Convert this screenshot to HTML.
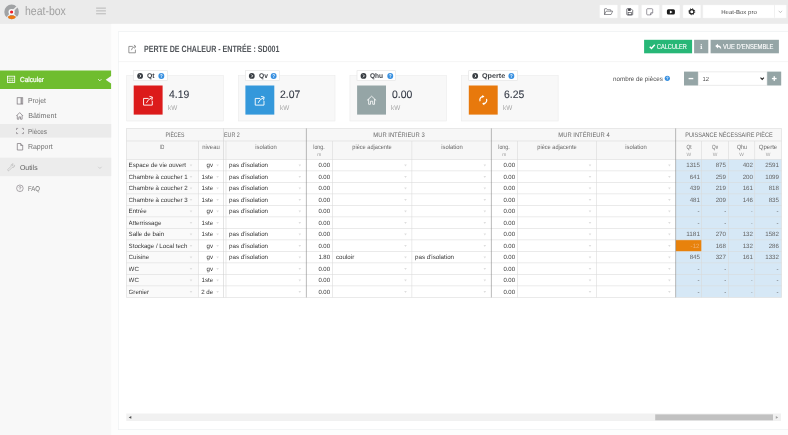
<!DOCTYPE html>
<html><head><meta charset="utf-8">
<style>
html,body{margin:0;padding:0;}
body{width:788px;height:435px;overflow:hidden;background:#fbfbfb;font-family:"Liberation Sans",sans-serif;position:relative;}
#root{position:absolute;left:0;top:0;width:788px;height:435px;overflow:hidden;will-change:transform;text-rendering:geometricPrecision;}
#root div{position:absolute;box-sizing:border-box;}
#root svg{position:absolute;left:0;top:0;}
.t{white-space:nowrap;line-height:1;}
</style></head><body><div id="root">
<svg width="788" height="435" viewBox="0 0 788 435">
<rect x="0.00" y="0.00" width="788.00" height="435.00" fill="#fdfdfd" />
<rect x="0.00" y="23.00" width="111.20" height="412.00" fill="#f8f8f8" />
<rect x="0.00" y="23.30" width="788.00" height="0.60" fill="#000" fill-opacity="0.035"/>
<rect x="0.00" y="0.00" width="788.00" height="23.40" fill="#ebebeb" />
<rect x="0.00" y="22.90" width="788.00" height="0.50" fill="#e5e5e5" />
<g transform="translate(4.20 4.60) scale(1.0)"><circle cx="7.4" cy="7.3" r="7.3" fill="#a0a2a4"/>
<path d="M7.4 7.6 L13.6 1.4" stroke="#ebebeb" stroke-width="1.7" fill="none"/>
<path d="M7.4 7.6 L2.2 13.6 M7.4 7.6 L12.9 13.4" stroke="#ebebeb" stroke-width="1.3" fill="none"/>
<circle cx="7.4" cy="7.4" r="3.1" fill="#f8f8f8"/>
<circle cx="7.4" cy="7.4" r="1.6" fill="#ee1c25"/>
<path d="M3.4 12.2 Q7.5 9.4 11.8 12.2 Q10.8 14.6 7.6 14.6 Q4.4 14.6 3.4 12.2 Z" fill="#ee7712"/></g>
<rect x="96.10" y="7.65" width="9.80" height="0.90" fill="#b2b2b2" />
<rect x="96.10" y="10.45" width="9.80" height="0.90" fill="#b2b2b2" />
<rect x="96.10" y="13.35" width="9.80" height="0.90" fill="#b2b2b2" />
<rect x="599.70" y="4.90" width="17.80" height="13.10" fill="#fff" stroke="#f3f3f3" stroke-width="0.4" rx="0.6"/>
<rect x="620.60" y="4.90" width="17.80" height="13.10" fill="#fff" stroke="#f3f3f3" stroke-width="0.4" rx="0.6"/>
<rect x="641.60" y="4.90" width="17.80" height="13.10" fill="#fff" stroke="#f3f3f3" stroke-width="0.4" rx="0.6"/>
<rect x="662.10" y="4.90" width="17.80" height="13.10" fill="#fff" stroke="#f3f3f3" stroke-width="0.4" rx="0.6"/>
<rect x="683.00" y="4.90" width="17.80" height="13.10" fill="#fff" stroke="#f3f3f3" stroke-width="0.4" rx="0.6"/>
<rect x="702.80" y="4.90" width="83.60" height="13.10" fill="#fff" stroke="#f3f3f3" stroke-width="0.4" rx="0.6"/>
<rect x="774.30" y="5.20" width="0.50" height="12.50" fill="#e2e2e2" />
<g transform="translate(778.40 10.40) scale(1.0)"><path d="M0.3 0.4 L2 2.3 L3.7 0.4" stroke="#a0a0a0" stroke-width="0.6" fill="none"/></g>
<g transform="translate(604.10 8.30) scale(1.0)"><path d="M0.4 6.2 L0.4 0.9 Q0.4 0.4 0.9 0.4 L2.6 0.4 L3.4 1.4 L6.2 1.4 Q6.7 1.4 6.7 1.9 L6.7 2.9 M0.4 6.2 L2 2.9 L8.6 2.9 L7 6.2 Z" stroke="#3c3c44" stroke-width="0.55" fill="none" stroke-linejoin="round"/></g>
<g transform="translate(626.40 8.30) scale(1.0)"><path d="M0.9 0.4 L4.6 0.4 L6.3 2.1 L6.3 6.1 Q6.3 6.6 5.8 6.6 L0.9 6.6 Q0.4 6.6 0.4 6.1 L0.4 0.9 Q0.4 0.4 0.9 0.4 Z" stroke="#3c3c44" stroke-width="0.7" fill="none"/><rect x="1.7" y="0.4" width="2.6" height="2.2" fill="#3c3c44"/><rect x="1.7" y="4" width="3.4" height="2.6" fill="none" stroke="#3c3c44" stroke-width="0.6"/></g>
<g transform="translate(646.30 8.30) scale(1.0)"><path d="M1.3 0.4 L5.5 0.4 Q6.4 0.4 6.4 1.3 L6.4 4.4 L4.3 6.6 L1.3 6.6 Q0.4 6.6 0.4 5.7 L0.4 1.3 Q0.4 0.4 1.3 0.4 Z M6.4 4.4 L4.8 4.4 Q4.3 4.4 4.3 4.9 L4.3 6.6" stroke="#4a4652" stroke-width="0.55" fill="none"/></g>
<g transform="translate(666.90 9.30) scale(1.0)"><rect x="0" y="0" width="8" height="5.2" rx="1.5" fill="#1b1b1b"/><path d="M3.0 1.1 L5.7 2.6 L3.0 4.1 Z" fill="#fff"/></g>
<g transform="translate(688.50 8.40) scale(1.0)"><circle cx="3.3" cy="3.3" r="2.7" fill="#1b1b1b"/><circle cx="3.3" cy="3.3" r="3.0" fill="none" stroke="#1b1b1b" stroke-width="0.9" stroke-dasharray="1.15 1.2"/><circle cx="3.3" cy="3.3" r="1.5" fill="#fff"/></g>
<path d="M0 70.5 L111.1 70.5 L111.1 76.1 L105.7 79.8 L111.1 83.5 L111.1 89 L0 89 Z" fill="#6fbd2f"/>
<g transform="translate(7.00 75.80) scale(1.0)"><rect x="0.4" y="0.4" width="7.3" height="6.3" fill="none" stroke="#fff" stroke-width="0.8"/><path d="M0.4 2.4 L7.7 2.4 M2.9 2.4 L2.9 6.7 M5.3 2.4 L5.3 6.7 M0.4 4.6 L7.7 4.6" stroke="#fff" stroke-opacity="0.75" stroke-width="0.6" fill="none"/></g>
<g transform="translate(97.90 78.90) scale(1.0)"><path d="M0.3 0.3 L1.9 1.9 L3.5 0.3" stroke="#fff" stroke-width="0.8" fill="none"/></g>
<g transform="translate(16.80 97.40) scale(1.0)"><rect x="0.35" y="0.35" width="5.6" height="6.3" fill="none" stroke="#787278" stroke-width="0.7"/><path d="M4.4 0.4 L4.4 6.6" stroke="#787278" stroke-width="1.0"/></g>
<g transform="translate(15.90 112.00) scale(1.0)"><path d="M0.4 4 L3.8 0.6 L7.2 4 M1.4 3.4 L1.4 7.2 L3 7.2 L3 4.9 L4.6 4.9 L4.6 7.2 L6.2 7.2 L6.2 3.4" fill="none" stroke="#787278" stroke-width="0.7" stroke-linejoin="round"/></g>
<rect x="0.00" y="124.00" width="111.20" height="13.60" fill="#ebebeb" />
<g transform="translate(16.10 128.00) scale(1.0)"><path d="M2 0.4 L0.4 0.4 L0.4 2 M5.8 0.4 L7.4 0.4 L7.4 2 M0.4 4 L0.4 5.6 L2 5.6 M7.4 4 L7.4 5.6 L5.8 5.6" fill="none" stroke="#787278" stroke-width="0.6"/></g>
<g transform="translate(16.90 143.10) scale(1.0)"><path d="M0.4 0.4 L3.8 0.4 L5.8 2.4 L5.8 6.9 L0.4 6.9 Z M3.8 0.4 L3.8 2.4 L5.8 2.4" fill="none" stroke="#787278" stroke-width="0.7" stroke-linejoin="round"/></g>
<rect x="0.00" y="157.70" width="111.20" height="18.40" fill="#ececec" />
<g transform="translate(7.00 163.40) scale(1.0)"><path d="M0.9 6.0 L4.1 2.8 Q3.8 1.2 5.2 0.5 L6.3 0.5 L5.3 1.6 L5.6 2.5 L6.5 2.8 L7.6 1.8 Q7.9 3.4 6.6 4.0 Q5.8 4.3 5.2 4.0 L2.0 7.2 Q1.4 7.6 0.9 7.1 Q0.5 6.6 0.9 6.0 Z" fill="none" stroke="#b4b4b4" stroke-width="0.6" stroke-linejoin="round"/></g>
<g transform="translate(97.90 166.50) scale(1.0)"><path d="M0.3 0.3 L2 2 L3.7 0.3" stroke="#c2c2c2" stroke-width="0.7" fill="none"/></g>
<g transform="translate(16.20 184.60) scale(1.0)"><circle cx="3.7" cy="3.7" r="3.3" fill="none" stroke="#787278" stroke-width="0.6"/><path d="M2.7 2.9 Q2.8 2 3.7 2 Q4.7 2 4.7 2.9 Q4.7 3.5 3.7 3.9 L3.7 4.4 M3.7 5 L3.7 5.6" fill="none" stroke="#787278" stroke-width="0.6"/></g>
<rect x="118.60" y="31.70" width="670.40" height="398.00" fill="#fff" stroke="#eceef1" stroke-width="0.6" />
<rect x="118.30" y="61.50" width="670.00" height="0.60" fill="#eeeeee" />
<g transform="translate(128.40 44.40) scale(1.0)"><path d="M4.4 2 L0.45 2 L0.45 8.4 L7 8.4 L7 5.2 M3 5.8 Q3.4 2.6 6.9 2.2 M5.5 0.6 L7.6 2.2 L5.8 3.9" fill="none" stroke="#6a6a6a" stroke-width="0.7" stroke-linejoin="round"/></g>
<rect x="644.10" y="39.80" width="48.00" height="13.50" fill="#27b777" />
<g transform="translate(649.00 43.70) scale(1.25)"><path d="M0.6 2.4 L2 3.8 L4.6 0.8" stroke="#fff" stroke-width="1.15" fill="none"/></g>
<rect x="694.10" y="39.80" width="14.20" height="13.50" fill="#95a5a6" />
<g transform="translate(700.30 44.10) scale(0.8)"><circle cx="1.2" cy="0.8" r="0.8" fill="#fff"/><path d="M0.2 2.5 L1.9 2.5 L1.9 5.4 L2.5 5.4 L2.5 6.2 L0 6.2 L0 5.4 L0.6 5.4 L0.6 3.3 L0.2 3.3 Z" fill="#fff"/></g>
<rect x="710.60" y="39.80" width="68.30" height="13.50" fill="#95a5a6" />
<g transform="translate(715.00 43.60) scale(1.2)"><path d="M2.5 0.2 L0.2 2.1 L2.5 4 L2.5 2.9 Q4.5 2.8 5.1 5 Q5.6 1.7 2.5 1.4 Z" fill="#fff"/></g>
<rect x="126.70" y="75.40" width="96.70" height="45.60" fill="#f8f8f8" stroke="#ebebeb" stroke-width="0.6" />
<rect x="133.60" y="70.70" width="33.70" height="9.90" fill="#fff" stroke="#e2e2e2" stroke-width="0.6" />
<rect x="133.70" y="85.50" width="28.90" height="29.10" fill="#dc1b1b" />
<g transform="translate(142.90 95.40) scale(1.08)"><path d="M4.9 2.8 L0.6 2.8 L0.6 9 L8.7 9 L8.7 5.4 M3.4 6.6 Q4.4 3.6 8.2 2.2 M6.4 1.0 L8.9 1.6 L8.3 4.2" fill="none" stroke="#fff" stroke-width="0.85" stroke-linejoin="round" stroke-linecap="round"/></g>
<g transform="translate(137.20 73.00) scale(1.0)"><circle cx="2.9" cy="2.9" r="2.9" fill="#373c42"/><path d="M2.4 1.5 L3.8 2.9 L2.4 4.3" fill="none" stroke="#fff" stroke-width="0.9"/></g>
<g transform="translate(158.40 73.00) scale(1.0)"><circle cx="2.95" cy="2.95" r="2.95" fill="#368fe0"/><path d="M2.0 2.3 Q2.1 1.4 2.95 1.4 Q3.9 1.4 3.9 2.2 Q3.9 2.8 2.95 3.2 L2.95 3.7 M2.95 4.3 L2.95 4.9" fill="none" stroke="#fff" stroke-width="0.8"/></g>
<rect x="238.30" y="75.40" width="96.70" height="45.60" fill="#f8f8f8" stroke="#ebebeb" stroke-width="0.6" />
<rect x="245.30" y="70.70" width="34.30" height="9.90" fill="#fff" stroke="#e2e2e2" stroke-width="0.6" />
<rect x="245.40" y="85.50" width="28.90" height="29.10" fill="#3498db" />
<g transform="translate(254.60 95.40) scale(1.08)"><path d="M4.9 2.8 L0.6 2.8 L0.6 9 L8.7 9 L8.7 5.4 M3.4 6.6 Q4.4 3.6 8.2 2.2 M6.4 1.0 L8.9 1.6 L8.3 4.2" fill="none" stroke="#fff" stroke-width="0.85" stroke-linejoin="round" stroke-linecap="round"/></g>
<g transform="translate(248.90 73.00) scale(1.0)"><circle cx="2.9" cy="2.9" r="2.9" fill="#373c42"/><path d="M2.4 1.5 L3.8 2.9 L2.4 4.3" fill="none" stroke="#fff" stroke-width="0.9"/></g>
<g transform="translate(270.70 73.00) scale(1.0)"><circle cx="2.95" cy="2.95" r="2.95" fill="#368fe0"/><path d="M2.0 2.3 Q2.1 1.4 2.95 1.4 Q3.9 1.4 3.9 2.2 Q3.9 2.8 2.95 3.2 L2.95 3.7 M2.95 4.3 L2.95 4.9" fill="none" stroke="#fff" stroke-width="0.8"/></g>
<rect x="349.90" y="75.40" width="96.70" height="45.60" fill="#f8f8f8" stroke="#ebebeb" stroke-width="0.6" />
<rect x="357.00" y="70.70" width="38.60" height="9.90" fill="#fff" stroke="#e2e2e2" stroke-width="0.6" />
<rect x="357.10" y="85.50" width="28.90" height="29.10" fill="#95a5a6" />
<g transform="translate(366.80 95.50) scale(1.02)"><path d="M0.5 4.6 L4.7 0.7 L8.9 4.6 M1.8 3.9 L1.8 8.6 L3.6 8.6 L3.6 5.6 L5.8 5.6 L5.8 8.6 L7.6 8.6 L7.6 3.9" fill="none" stroke="#fff" stroke-width="0.8" stroke-linejoin="round" stroke-linecap="round"/></g>
<g transform="translate(360.60 73.00) scale(1.0)"><circle cx="2.9" cy="2.9" r="2.9" fill="#373c42"/><path d="M2.4 1.5 L3.8 2.9 L2.4 4.3" fill="none" stroke="#fff" stroke-width="0.9"/></g>
<g transform="translate(387.30 73.00) scale(1.0)"><circle cx="2.95" cy="2.95" r="2.95" fill="#368fe0"/><path d="M2.0 2.3 Q2.1 1.4 2.95 1.4 Q3.9 1.4 3.9 2.2 Q3.9 2.8 2.95 3.2 L2.95 3.7 M2.95 4.3 L2.95 4.9" fill="none" stroke="#fff" stroke-width="0.8"/></g>
<rect x="461.50" y="75.40" width="96.70" height="45.60" fill="#f8f8f8" stroke="#ebebeb" stroke-width="0.6" />
<rect x="468.70" y="70.70" width="48.70" height="9.90" fill="#fff" stroke="#e2e2e2" stroke-width="0.6" />
<rect x="468.80" y="85.50" width="28.90" height="29.10" fill="#e8790c" />
<g transform="translate(478.80 95.10) scale(1.0)"><path d="M1.3 6.2 A3.6 3.6 0 0 1 4.2 1.3 M7.7 3.8 A3.6 3.6 0 0 1 4.8 8.7" fill="none" stroke="#fff" stroke-width="1.2"/><path d="M3.5 -0.2 L5.7 1.3 L3.5 2.8 Z M5.5 7.2 L3.3 8.7 L5.5 10.2 Z" fill="#fff"/></g>
<g transform="translate(472.30 73.00) scale(1.0)"><circle cx="2.9" cy="2.9" r="2.9" fill="#373c42"/><path d="M2.4 1.5 L3.8 2.9 L2.4 4.3" fill="none" stroke="#fff" stroke-width="0.9"/></g>
<g transform="translate(508.40 73.00) scale(1.0)"><circle cx="2.95" cy="2.95" r="2.95" fill="#368fe0"/><path d="M2.0 2.3 Q2.1 1.4 2.95 1.4 Q3.9 1.4 3.9 2.2 Q3.9 2.8 2.95 3.2 L2.95 3.7 M2.95 4.3 L2.95 4.9" fill="none" stroke="#fff" stroke-width="0.8"/></g>
<g transform="translate(664.90 75.90) scale(1.0)"><circle cx="2.4" cy="2.4" r="2.6" fill="#368fe0"/><path d="M1.6 1.9 Q1.7 1.1 2.4 1.1 Q3.2 1.1 3.2 1.8 Q3.2 2.3 2.4 2.6 L2.4 3 M2.4 3.5 L2.4 4" fill="none" stroke="#fff" stroke-width="0.65"/></g>
<rect x="684.00" y="71.60" width="14.00" height="13.90" fill="#95a5a6" />
<rect x="688.60" y="77.90" width="4.70" height="1.35" fill="#fff" />
<rect x="698.20" y="71.90" width="68.80" height="13.30" fill="#fff" stroke="#dedede" stroke-width="0.6" />
<g transform="translate(760.20 77.30) scale(1.0)"><path d="M0.3 0.4 L2.0 2.1 L3.7 0.4" stroke="#2a2a2a" stroke-width="1.1" fill="none"/></g>
<rect x="767.20" y="71.60" width="14.00" height="13.90" fill="#95a5a6" />
<rect x="771.90" y="77.90" width="4.70" height="1.35" fill="#fff" />
<rect x="773.57" y="76.20" width="1.35" height="4.70" fill="#fff" />
<rect x="126.30" y="128.40" width="655.20" height="169.00" fill="#fff" />
<rect x="126.30" y="128.40" width="655.20" height="31.00" fill="#f7f7f7" />
<rect x="126.30" y="159.40" width="72.30" height="138.00" fill="#fafafa" />
<rect x="675.80" y="159.40" width="105.70" height="138.00" fill="#d6e8f6" />
<rect x="675.80" y="239.90" width="25.80" height="11.50" fill="#e8820c" />
<rect x="126.30" y="128.12" width="655.20" height="0.55" fill="#d9d9d9" />
<rect x="126.30" y="140.72" width="655.20" height="0.55" fill="#d9d9d9" />
<rect x="126.30" y="159.12" width="655.20" height="0.55" fill="#d9d9d9" />
<rect x="126.30" y="170.62" width="655.20" height="0.55" fill="#d9d9d9" />
<rect x="126.30" y="182.12" width="655.20" height="0.55" fill="#d9d9d9" />
<rect x="126.30" y="193.62" width="655.20" height="0.55" fill="#d9d9d9" />
<rect x="126.30" y="205.12" width="655.20" height="0.55" fill="#d9d9d9" />
<rect x="126.30" y="216.62" width="655.20" height="0.55" fill="#d9d9d9" />
<rect x="126.30" y="228.12" width="655.20" height="0.55" fill="#d9d9d9" />
<rect x="126.30" y="239.62" width="655.20" height="0.55" fill="#d9d9d9" />
<rect x="126.30" y="251.12" width="655.20" height="0.55" fill="#d9d9d9" />
<rect x="126.30" y="262.62" width="655.20" height="0.55" fill="#d9d9d9" />
<rect x="126.30" y="274.12" width="655.20" height="0.55" fill="#d9d9d9" />
<rect x="126.30" y="285.62" width="655.20" height="0.55" fill="#d9d9d9" />
<rect x="126.30" y="297.12" width="655.20" height="0.55" fill="#d9d9d9" />
<rect x="126.02" y="128.40" width="0.55" height="169.00" fill="#d9d9d9" />
<rect x="198.32" y="141.00" width="0.55" height="156.40" fill="#d9d9d9" />
<rect x="223.42" y="128.40" width="0.55" height="169.00" fill="#cdcdcd" />
<rect x="225.72" y="141.00" width="0.55" height="156.40" fill="#d9d9d9" />
<rect x="305.93" y="128.40" width="0.55" height="169.00" fill="#848484" />
<rect x="332.23" y="141.00" width="0.55" height="156.40" fill="#d9d9d9" />
<rect x="411.62" y="141.00" width="0.55" height="156.40" fill="#d9d9d9" />
<rect x="490.93" y="128.40" width="0.55" height="169.00" fill="#848484" />
<rect x="517.02" y="141.00" width="0.55" height="156.40" fill="#d9d9d9" />
<rect x="596.12" y="141.00" width="0.55" height="156.40" fill="#d9d9d9" />
<rect x="675.52" y="128.40" width="0.55" height="169.00" fill="#848484" />
<rect x="701.33" y="141.00" width="0.55" height="156.40" fill="#d9d9d9" />
<rect x="728.23" y="141.00" width="0.55" height="156.40" fill="#d9d9d9" />
<rect x="754.52" y="141.00" width="0.55" height="156.40" fill="#d9d9d9" />
<rect x="781.23" y="128.40" width="0.55" height="169.00" fill="#d9d9d9" />
<path d="M189.70 164.60 L192.30 164.60 L191.00 166.40 Z" fill="#dedede"/>
<path d="M216.30 164.60 L218.90 164.60 L217.60 166.40 Z" fill="#dedede"/>
<path d="M298.50 164.60 L301.10 164.60 L299.80 166.40 Z" fill="#dedede"/>
<path d="M404.20 164.60 L406.80 164.60 L405.50 166.40 Z" fill="#dedede"/>
<path d="M483.50 164.60 L486.10 164.60 L484.80 166.40 Z" fill="#dedede"/>
<path d="M588.70 164.60 L591.30 164.60 L590.00 166.40 Z" fill="#dedede"/>
<path d="M668.10 164.60 L670.70 164.60 L669.40 166.40 Z" fill="#dedede"/>
<path d="M189.70 176.10 L192.30 176.10 L191.00 177.90 Z" fill="#dedede"/>
<path d="M216.30 176.10 L218.90 176.10 L217.60 177.90 Z" fill="#dedede"/>
<path d="M298.50 176.10 L301.10 176.10 L299.80 177.90 Z" fill="#dedede"/>
<path d="M404.20 176.10 L406.80 176.10 L405.50 177.90 Z" fill="#dedede"/>
<path d="M483.50 176.10 L486.10 176.10 L484.80 177.90 Z" fill="#dedede"/>
<path d="M588.70 176.10 L591.30 176.10 L590.00 177.90 Z" fill="#dedede"/>
<path d="M668.10 176.10 L670.70 176.10 L669.40 177.90 Z" fill="#dedede"/>
<path d="M189.70 187.60 L192.30 187.60 L191.00 189.40 Z" fill="#dedede"/>
<path d="M216.30 187.60 L218.90 187.60 L217.60 189.40 Z" fill="#dedede"/>
<path d="M298.50 187.60 L301.10 187.60 L299.80 189.40 Z" fill="#dedede"/>
<path d="M404.20 187.60 L406.80 187.60 L405.50 189.40 Z" fill="#dedede"/>
<path d="M483.50 187.60 L486.10 187.60 L484.80 189.40 Z" fill="#dedede"/>
<path d="M588.70 187.60 L591.30 187.60 L590.00 189.40 Z" fill="#dedede"/>
<path d="M668.10 187.60 L670.70 187.60 L669.40 189.40 Z" fill="#dedede"/>
<path d="M189.70 199.10 L192.30 199.10 L191.00 200.90 Z" fill="#dedede"/>
<path d="M216.30 199.10 L218.90 199.10 L217.60 200.90 Z" fill="#dedede"/>
<path d="M298.50 199.10 L301.10 199.10 L299.80 200.90 Z" fill="#dedede"/>
<path d="M404.20 199.10 L406.80 199.10 L405.50 200.90 Z" fill="#dedede"/>
<path d="M483.50 199.10 L486.10 199.10 L484.80 200.90 Z" fill="#dedede"/>
<path d="M588.70 199.10 L591.30 199.10 L590.00 200.90 Z" fill="#dedede"/>
<path d="M668.10 199.10 L670.70 199.10 L669.40 200.90 Z" fill="#dedede"/>
<path d="M189.70 210.60 L192.30 210.60 L191.00 212.40 Z" fill="#dedede"/>
<path d="M216.30 210.60 L218.90 210.60 L217.60 212.40 Z" fill="#dedede"/>
<path d="M298.50 210.60 L301.10 210.60 L299.80 212.40 Z" fill="#dedede"/>
<path d="M404.20 210.60 L406.80 210.60 L405.50 212.40 Z" fill="#dedede"/>
<path d="M483.50 210.60 L486.10 210.60 L484.80 212.40 Z" fill="#dedede"/>
<path d="M588.70 210.60 L591.30 210.60 L590.00 212.40 Z" fill="#dedede"/>
<path d="M668.10 210.60 L670.70 210.60 L669.40 212.40 Z" fill="#dedede"/>
<path d="M189.70 222.10 L192.30 222.10 L191.00 223.90 Z" fill="#dedede"/>
<path d="M216.30 222.10 L218.90 222.10 L217.60 223.90 Z" fill="#dedede"/>
<path d="M298.50 222.10 L301.10 222.10 L299.80 223.90 Z" fill="#dedede"/>
<path d="M404.20 222.10 L406.80 222.10 L405.50 223.90 Z" fill="#dedede"/>
<path d="M483.50 222.10 L486.10 222.10 L484.80 223.90 Z" fill="#dedede"/>
<path d="M588.70 222.10 L591.30 222.10 L590.00 223.90 Z" fill="#dedede"/>
<path d="M668.10 222.10 L670.70 222.10 L669.40 223.90 Z" fill="#dedede"/>
<path d="M189.70 233.60 L192.30 233.60 L191.00 235.40 Z" fill="#dedede"/>
<path d="M216.30 233.60 L218.90 233.60 L217.60 235.40 Z" fill="#dedede"/>
<path d="M298.50 233.60 L301.10 233.60 L299.80 235.40 Z" fill="#dedede"/>
<path d="M404.20 233.60 L406.80 233.60 L405.50 235.40 Z" fill="#dedede"/>
<path d="M483.50 233.60 L486.10 233.60 L484.80 235.40 Z" fill="#dedede"/>
<path d="M588.70 233.60 L591.30 233.60 L590.00 235.40 Z" fill="#dedede"/>
<path d="M668.10 233.60 L670.70 233.60 L669.40 235.40 Z" fill="#dedede"/>
<path d="M189.70 245.10 L192.30 245.10 L191.00 246.90 Z" fill="#dedede"/>
<path d="M216.30 245.10 L218.90 245.10 L217.60 246.90 Z" fill="#dedede"/>
<path d="M298.50 245.10 L301.10 245.10 L299.80 246.90 Z" fill="#dedede"/>
<path d="M404.20 245.10 L406.80 245.10 L405.50 246.90 Z" fill="#dedede"/>
<path d="M483.50 245.10 L486.10 245.10 L484.80 246.90 Z" fill="#dedede"/>
<path d="M588.70 245.10 L591.30 245.10 L590.00 246.90 Z" fill="#dedede"/>
<path d="M668.10 245.10 L670.70 245.10 L669.40 246.90 Z" fill="#dedede"/>
<path d="M189.70 256.60 L192.30 256.60 L191.00 258.40 Z" fill="#dedede"/>
<path d="M216.30 256.60 L218.90 256.60 L217.60 258.40 Z" fill="#dedede"/>
<path d="M298.50 256.60 L301.10 256.60 L299.80 258.40 Z" fill="#dedede"/>
<path d="M404.20 256.60 L406.80 256.60 L405.50 258.40 Z" fill="#dedede"/>
<path d="M483.50 256.60 L486.10 256.60 L484.80 258.40 Z" fill="#dedede"/>
<path d="M588.70 256.60 L591.30 256.60 L590.00 258.40 Z" fill="#dedede"/>
<path d="M668.10 256.60 L670.70 256.60 L669.40 258.40 Z" fill="#dedede"/>
<path d="M189.70 268.10 L192.30 268.10 L191.00 269.90 Z" fill="#dedede"/>
<path d="M216.30 268.10 L218.90 268.10 L217.60 269.90 Z" fill="#dedede"/>
<path d="M298.50 268.10 L301.10 268.10 L299.80 269.90 Z" fill="#dedede"/>
<path d="M404.20 268.10 L406.80 268.10 L405.50 269.90 Z" fill="#dedede"/>
<path d="M483.50 268.10 L486.10 268.10 L484.80 269.90 Z" fill="#dedede"/>
<path d="M588.70 268.10 L591.30 268.10 L590.00 269.90 Z" fill="#dedede"/>
<path d="M668.10 268.10 L670.70 268.10 L669.40 269.90 Z" fill="#dedede"/>
<path d="M189.70 279.60 L192.30 279.60 L191.00 281.40 Z" fill="#dedede"/>
<path d="M216.30 279.60 L218.90 279.60 L217.60 281.40 Z" fill="#dedede"/>
<path d="M298.50 279.60 L301.10 279.60 L299.80 281.40 Z" fill="#dedede"/>
<path d="M404.20 279.60 L406.80 279.60 L405.50 281.40 Z" fill="#dedede"/>
<path d="M483.50 279.60 L486.10 279.60 L484.80 281.40 Z" fill="#dedede"/>
<path d="M588.70 279.60 L591.30 279.60 L590.00 281.40 Z" fill="#dedede"/>
<path d="M668.10 279.60 L670.70 279.60 L669.40 281.40 Z" fill="#dedede"/>
<path d="M189.70 291.10 L192.30 291.10 L191.00 292.90 Z" fill="#dedede"/>
<path d="M216.30 291.10 L218.90 291.10 L217.60 292.90 Z" fill="#dedede"/>
<path d="M298.50 291.10 L301.10 291.10 L299.80 292.90 Z" fill="#dedede"/>
<path d="M404.20 291.10 L406.80 291.10 L405.50 292.90 Z" fill="#dedede"/>
<path d="M483.50 291.10 L486.10 291.10 L484.80 292.90 Z" fill="#dedede"/>
<path d="M588.70 291.10 L591.30 291.10 L590.00 292.90 Z" fill="#dedede"/>
<path d="M668.10 291.10 L670.70 291.10 L669.40 292.90 Z" fill="#dedede"/>
<rect x="126.30" y="413.50" width="654.70" height="7.50" fill="#f1f1f1" />
<rect x="655.20" y="414.40" width="117.80" height="5.90" fill="#c1c1c1" />
<path d="M131.3 416 L128.7 417.4 L131.3 418.8 Z" fill="#505050"/>
<path d="M775.8 416 L778.2 417.4 L775.8 418.8 Z" fill="#a0a0a0"/>
</svg>
<div class="t" style="top:5px;font-size:12.3px;color:#a0a0a0;left:24.70px;transform:scaleX(0.8525);transform-origin:0 0;">heat-box</div>
<div class="t" style="top:11px;font-size:5.7px;color:#4e4e4e;left:588.50px;width:300px;text-align:center;transform:scaleX(1.0622);transform-origin:50% 0;">Heat-Box pro</div>
<div class="t" style="top:76px;font-size:7.2px;color:#fff;left:19.90px;transform:scaleX(0.9100);transform-origin:0 0;-webkit-text-stroke:0.22px #fff;">Calculer</div>
<div class="t" style="top:97px;font-size:7.2px;color:#707070;left:28.20px;transform:scaleX(0.9531);transform-origin:0 0;">Projet</div>
<div class="t" style="top:112px;font-size:7.2px;color:#707070;left:28.20px;">Bâtiment</div>
<div class="t" style="top:128px;font-size:7.2px;color:#707070;left:28.20px;transform:scaleX(0.8805);transform-origin:0 0;">Pièces</div>
<div class="t" style="top:143px;font-size:7.2px;color:#707070;left:28.20px;transform:scaleX(0.9657);transform-origin:0 0;">Rapport</div>
<div class="t" style="top:165px;font-size:7.1px;color:#606060;left:19.90px;transform:scaleX(0.9702);transform-origin:0 0;">Outils</div>
<div class="t" style="top:186px;font-size:7.0px;color:#707070;left:28.10px;transform:scaleX(0.8562);transform-origin:0 0;">FAQ</div>
<div class="t" style="top:45px;font-size:9.2px;color:#52565b;font-weight:bold;left:143.70px;transform:scaleX(0.7738);transform-origin:0 0;">PERTE DE CHALEUR - ENTRÉE : SD001</div>
<div class="t" style="top:43px;font-size:7.2px;color:#fff;left:657.30px;transform:scaleX(0.7769);transform-origin:0 0;-webkit-text-stroke:0.12px #fff;">CALCULER</div>
<div class="t" style="top:43px;font-size:7.2px;color:#fff;left:723.10px;transform:scaleX(0.8066);transform-origin:0 0;-webkit-text-stroke:0.12px #fff;">VUE D'ENSEMBLE</div>
<div class="t" style="top:74px;font-size:6.9px;color:#40444a;font-weight:bold;left:147.00px;transform:scaleX(0.9927);transform-origin:0 0;">Qt</div>
<div class="t" style="top:74px;font-size:6.9px;color:#40444a;font-weight:bold;left:258.60px;transform:scaleX(0.9671);transform-origin:0 0;">Qv</div>
<div class="t" style="top:74px;font-size:6.9px;color:#40444a;font-weight:bold;left:370.20px;transform:scaleX(0.9506);transform-origin:0 0;">Qhu</div>
<div class="t" style="top:74px;font-size:6.9px;color:#40444a;font-weight:bold;left:481.80px;transform:scaleX(1.0442);transform-origin:0 0;">Qperte</div>
<div class="t" style="top:90px;font-size:10.8px;color:#343a46;left:168.80px;transform:scaleX(0.9659);transform-origin:0 0;-webkit-text-stroke:0.1px #343a46;">4.19</div>
<div class="t" style="top:106px;font-size:6.8px;color:#a6a6a6;left:168.40px;transform:scaleX(0.9361);transform-origin:0 0;">kW</div>
<div class="t" style="top:90px;font-size:10.8px;color:#343a46;left:280.40px;transform:scaleX(0.9659);transform-origin:0 0;-webkit-text-stroke:0.1px #343a46;">2.07</div>
<div class="t" style="top:106px;font-size:6.8px;color:#a6a6a6;left:279.90px;transform:scaleX(0.9361);transform-origin:0 0;">kW</div>
<div class="t" style="top:90px;font-size:10.8px;color:#343a46;left:392.00px;transform:scaleX(0.9659);transform-origin:0 0;-webkit-text-stroke:0.1px #343a46;">0.00</div>
<div class="t" style="top:106px;font-size:6.8px;color:#a6a6a6;left:391.40px;transform:scaleX(0.9361);transform-origin:0 0;">kW</div>
<div class="t" style="top:90px;font-size:10.8px;color:#343a46;left:503.60px;transform:scaleX(0.9659);transform-origin:0 0;-webkit-text-stroke:0.1px #343a46;">6.25</div>
<div class="t" style="top:106px;font-size:6.8px;color:#a6a6a6;left:502.90px;transform:scaleX(0.9361);transform-origin:0 0;">kW</div>
<div class="t" style="top:77px;font-size:6.3px;color:#505050;left:612.90px;">nombre de pièces</div>
<div class="t" style="top:78px;font-size:5.9px;color:#555;left:702.60px;">12</div>
<div class="t" style="top:133px;font-size:6.6px;color:#666666;left:25.00px;width:300px;text-align:center;transform:scaleX(0.7855);transform-origin:50% 0;">PIÈCES</div>
<div class="t" style="top:133px;font-size:6.6px;color:#666666;left:224.10px;transform:scaleX(0.8135);transform-origin:0 0;">EUR 2</div>
<div class="t" style="top:133px;font-size:6.6px;color:#666666;left:248.70px;width:300px;text-align:center;transform:scaleX(0.8879);transform-origin:50% 0;">MUR INTÉRIEUR 3</div>
<div class="t" style="top:133px;font-size:6.6px;color:#666666;left:433.50px;width:300px;text-align:center;transform:scaleX(0.8879);transform-origin:50% 0;">MUR INTÉRIEUR 4</div>
<div class="t" style="top:133px;font-size:6.6px;color:#666666;left:578.65px;width:300px;text-align:center;transform:scaleX(0.8407);transform-origin:50% 0;">PUISSANCE NÉCESSAIRE PIÈCE</div>
<div class="t" style="top:145px;font-size:6.2px;color:#6a6a6a;left:12.45px;width:300px;text-align:center;transform:scaleX(0.7434);transform-origin:50% 0;">ID</div>
<div class="t" style="top:145px;font-size:6.2px;color:#6a6a6a;left:61.15px;width:300px;text-align:center;transform:scaleX(0.9597);transform-origin:50% 0;">niveau</div>
<div class="t" style="top:145px;font-size:6.2px;color:#6a6a6a;left:116.10px;width:300px;text-align:center;transform:scaleX(0.9470);transform-origin:50% 0;">isolation</div>
<div class="t" style="top:145px;font-size:6.2px;color:#6a6a6a;left:169.35px;width:300px;text-align:center;transform:scaleX(0.8568);transform-origin:50% 0;">long.</div>
<div class="t" style="top:154px;font-size:4.9px;color:#9c9c9c;left:169.35px;width:300px;text-align:center;">m</div>
<div class="t" style="top:145px;font-size:6.2px;color:#6a6a6a;left:222.20px;width:300px;text-align:center;transform:scaleX(0.9087);transform-origin:50% 0;">pièce adjacente</div>
<div class="t" style="top:145px;font-size:6.2px;color:#6a6a6a;left:301.55px;width:300px;text-align:center;transform:scaleX(0.9470);transform-origin:50% 0;">isolation</div>
<div class="t" style="top:145px;font-size:6.2px;color:#6a6a6a;left:354.25px;width:300px;text-align:center;transform:scaleX(0.8568);transform-origin:50% 0;">long.</div>
<div class="t" style="top:154px;font-size:4.9px;color:#9c9c9c;left:354.25px;width:300px;text-align:center;">m</div>
<div class="t" style="top:145px;font-size:6.2px;color:#6a6a6a;left:406.85px;width:300px;text-align:center;transform:scaleX(0.9087);transform-origin:50% 0;">pièce adjacente</div>
<div class="t" style="top:145px;font-size:6.2px;color:#6a6a6a;left:486.10px;width:300px;text-align:center;transform:scaleX(0.9470);transform-origin:50% 0;">isolation</div>
<div class="t" style="top:145px;font-size:6.2px;color:#6a6a6a;left:538.70px;width:300px;text-align:center;transform:scaleX(0.7637);transform-origin:50% 0;">Qt</div>
<div class="t" style="top:154px;font-size:4.9px;color:#9c9c9c;left:538.70px;width:300px;text-align:center;">W</div>
<div class="t" style="top:145px;font-size:6.2px;color:#6a6a6a;left:565.05px;width:300px;text-align:center;transform:scaleX(0.7574);transform-origin:50% 0;">Qv</div>
<div class="t" style="top:154px;font-size:4.9px;color:#9c9c9c;left:565.05px;width:300px;text-align:center;">W</div>
<div class="t" style="top:145px;font-size:6.2px;color:#6a6a6a;left:591.65px;width:300px;text-align:center;transform:scaleX(0.8630);transform-origin:50% 0;">Qhu</div>
<div class="t" style="top:154px;font-size:4.9px;color:#9c9c9c;left:591.65px;width:300px;text-align:center;">W</div>
<div class="t" style="top:145px;font-size:6.2px;color:#6a6a6a;left:618.15px;width:300px;text-align:center;transform:scaleX(0.9777);transform-origin:50% 0;">Qperte</div>
<div class="t" style="top:154px;font-size:4.9px;color:#9c9c9c;left:618.15px;width:300px;text-align:center;">W</div>
<div style="left:128.60px;top:162px;width:59.2px;height:9.8px;overflow:hidden;"><div class="t" style="top:1px;font-size:6.15px;color:#363636;left:0.00px;">Espace de vie ouvert</div></div>
<div class="t" style="top:163px;font-size:6.15px;color:#363636;left:-86.90px;width:300px;text-align:right;">gv</div>
<div class="t" style="top:163px;font-size:6.15px;color:#363636;left:229.00px;transform:scaleX(1.0081);transform-origin:0 0;">pas d'isolation</div>
<div class="t" style="top:163px;font-size:6.15px;color:#363636;left:30.40px;width:300px;text-align:right;transform:scaleX(0.9705);transform-origin:100% 0;">0.00</div>
<div class="t" style="top:163px;font-size:6.15px;color:#363636;left:215.20px;width:300px;text-align:right;transform:scaleX(0.9705);transform-origin:100% 0;">0.00</div>
<div class="t" style="top:163px;font-size:6.15px;color:#646464;left:399.50px;width:300px;text-align:right;transform:scaleX(1.0094);transform-origin:100% 0;">1315</div>
<div class="t" style="top:163px;font-size:6.15px;color:#646464;left:426.40px;width:300px;text-align:right;transform:scaleX(1.0098);transform-origin:100% 0;">875</div>
<div class="t" style="top:163px;font-size:6.15px;color:#646464;left:452.70px;width:300px;text-align:right;transform:scaleX(1.0098);transform-origin:100% 0;">402</div>
<div class="t" style="top:163px;font-size:6.15px;color:#646464;left:478.60px;width:300px;text-align:right;transform:scaleX(1.0094);transform-origin:100% 0;">2591</div>
<div style="left:128.60px;top:174px;width:59.2px;height:9.8px;overflow:hidden;"><div class="t" style="top:1px;font-size:6.15px;color:#363636;left:0.00px;">Chambre à coucher 1</div></div>
<div class="t" style="top:175px;font-size:6.15px;color:#363636;left:-86.90px;width:300px;text-align:right;">1ste</div>
<div class="t" style="top:175px;font-size:6.15px;color:#363636;left:229.00px;transform:scaleX(1.0081);transform-origin:0 0;">pas d'isolation</div>
<div class="t" style="top:175px;font-size:6.15px;color:#363636;left:30.40px;width:300px;text-align:right;transform:scaleX(0.9705);transform-origin:100% 0;">0.00</div>
<div class="t" style="top:175px;font-size:6.15px;color:#363636;left:215.20px;width:300px;text-align:right;transform:scaleX(0.9705);transform-origin:100% 0;">0.00</div>
<div class="t" style="top:175px;font-size:6.15px;color:#646464;left:399.50px;width:300px;text-align:right;transform:scaleX(1.0098);transform-origin:100% 0;">641</div>
<div class="t" style="top:175px;font-size:6.15px;color:#646464;left:426.40px;width:300px;text-align:right;transform:scaleX(1.0098);transform-origin:100% 0;">259</div>
<div class="t" style="top:175px;font-size:6.15px;color:#646464;left:452.70px;width:300px;text-align:right;transform:scaleX(1.0098);transform-origin:100% 0;">200</div>
<div class="t" style="top:175px;font-size:6.15px;color:#646464;left:478.60px;width:300px;text-align:right;transform:scaleX(1.0094);transform-origin:100% 0;">1099</div>
<div style="left:128.60px;top:185px;width:59.2px;height:9.8px;overflow:hidden;"><div class="t" style="top:1px;font-size:6.15px;color:#363636;left:0.00px;">Chambre à coucher 2</div></div>
<div class="t" style="top:186px;font-size:6.15px;color:#363636;left:-86.90px;width:300px;text-align:right;">1ste</div>
<div class="t" style="top:186px;font-size:6.15px;color:#363636;left:229.00px;transform:scaleX(1.0081);transform-origin:0 0;">pas d'isolation</div>
<div class="t" style="top:186px;font-size:6.15px;color:#363636;left:30.40px;width:300px;text-align:right;transform:scaleX(0.9705);transform-origin:100% 0;">0.00</div>
<div class="t" style="top:186px;font-size:6.15px;color:#363636;left:215.20px;width:300px;text-align:right;transform:scaleX(0.9705);transform-origin:100% 0;">0.00</div>
<div class="t" style="top:186px;font-size:6.15px;color:#646464;left:399.50px;width:300px;text-align:right;transform:scaleX(1.0098);transform-origin:100% 0;">439</div>
<div class="t" style="top:186px;font-size:6.15px;color:#646464;left:426.40px;width:300px;text-align:right;transform:scaleX(1.0098);transform-origin:100% 0;">219</div>
<div class="t" style="top:186px;font-size:6.15px;color:#646464;left:452.70px;width:300px;text-align:right;transform:scaleX(1.0098);transform-origin:100% 0;">161</div>
<div class="t" style="top:186px;font-size:6.15px;color:#646464;left:478.60px;width:300px;text-align:right;transform:scaleX(1.0098);transform-origin:100% 0;">818</div>
<div style="left:128.60px;top:197px;width:59.2px;height:9.8px;overflow:hidden;"><div class="t" style="top:1px;font-size:6.15px;color:#363636;left:0.00px;">Chambre à coucher 3</div></div>
<div class="t" style="top:198px;font-size:6.15px;color:#363636;left:-86.90px;width:300px;text-align:right;">1ste</div>
<div class="t" style="top:198px;font-size:6.15px;color:#363636;left:229.00px;transform:scaleX(1.0081);transform-origin:0 0;">pas d'isolation</div>
<div class="t" style="top:198px;font-size:6.15px;color:#363636;left:30.40px;width:300px;text-align:right;transform:scaleX(0.9705);transform-origin:100% 0;">0.00</div>
<div class="t" style="top:198px;font-size:6.15px;color:#363636;left:215.20px;width:300px;text-align:right;transform:scaleX(0.9705);transform-origin:100% 0;">0.00</div>
<div class="t" style="top:198px;font-size:6.15px;color:#646464;left:399.50px;width:300px;text-align:right;transform:scaleX(1.0098);transform-origin:100% 0;">481</div>
<div class="t" style="top:198px;font-size:6.15px;color:#646464;left:426.40px;width:300px;text-align:right;transform:scaleX(1.0098);transform-origin:100% 0;">209</div>
<div class="t" style="top:198px;font-size:6.15px;color:#646464;left:452.70px;width:300px;text-align:right;transform:scaleX(1.0098);transform-origin:100% 0;">146</div>
<div class="t" style="top:198px;font-size:6.15px;color:#646464;left:478.60px;width:300px;text-align:right;transform:scaleX(1.0098);transform-origin:100% 0;">835</div>
<div style="left:128.60px;top:208px;width:59.2px;height:9.8px;overflow:hidden;"><div class="t" style="top:1px;font-size:6.15px;color:#363636;left:0.00px;">Entrée</div></div>
<div class="t" style="top:209px;font-size:6.15px;color:#363636;left:-86.90px;width:300px;text-align:right;">gv</div>
<div class="t" style="top:209px;font-size:6.15px;color:#363636;left:229.00px;transform:scaleX(1.0081);transform-origin:0 0;">pas d'isolation</div>
<div class="t" style="top:209px;font-size:6.15px;color:#363636;left:30.40px;width:300px;text-align:right;transform:scaleX(0.9705);transform-origin:100% 0;">0.00</div>
<div class="t" style="top:209px;font-size:6.15px;color:#363636;left:215.20px;width:300px;text-align:right;transform:scaleX(0.9705);transform-origin:100% 0;">0.00</div>
<div class="t" style="top:209px;font-size:6.15px;color:#646464;left:399.50px;width:300px;text-align:right;">-</div>
<div class="t" style="top:209px;font-size:6.15px;color:#646464;left:426.40px;width:300px;text-align:right;">-</div>
<div class="t" style="top:209px;font-size:6.15px;color:#646464;left:452.70px;width:300px;text-align:right;">-</div>
<div class="t" style="top:209px;font-size:6.15px;color:#646464;left:478.60px;width:300px;text-align:right;">-</div>
<div style="left:128.60px;top:220px;width:59.2px;height:9.8px;overflow:hidden;"><div class="t" style="top:1px;font-size:6.15px;color:#363636;left:0.00px;">Atterrissage</div></div>
<div class="t" style="top:221px;font-size:6.15px;color:#363636;left:-86.90px;width:300px;text-align:right;">1ste</div>
<div class="t" style="top:221px;font-size:6.15px;color:#363636;left:30.40px;width:300px;text-align:right;transform:scaleX(0.9705);transform-origin:100% 0;">0.00</div>
<div class="t" style="top:221px;font-size:6.15px;color:#363636;left:215.20px;width:300px;text-align:right;transform:scaleX(0.9705);transform-origin:100% 0;">0.00</div>
<div class="t" style="top:221px;font-size:6.15px;color:#646464;left:399.50px;width:300px;text-align:right;">-</div>
<div class="t" style="top:221px;font-size:6.15px;color:#646464;left:426.40px;width:300px;text-align:right;">-</div>
<div class="t" style="top:221px;font-size:6.15px;color:#646464;left:452.70px;width:300px;text-align:right;">-</div>
<div class="t" style="top:221px;font-size:6.15px;color:#646464;left:478.60px;width:300px;text-align:right;">-</div>
<div style="left:128.60px;top:231px;width:59.2px;height:9.8px;overflow:hidden;"><div class="t" style="top:1px;font-size:6.15px;color:#363636;left:0.00px;">Salle de bain</div></div>
<div class="t" style="top:232px;font-size:6.15px;color:#363636;left:-86.90px;width:300px;text-align:right;">1ste</div>
<div class="t" style="top:232px;font-size:6.15px;color:#363636;left:229.00px;transform:scaleX(1.0081);transform-origin:0 0;">pas d'isolation</div>
<div class="t" style="top:232px;font-size:6.15px;color:#363636;left:30.40px;width:300px;text-align:right;transform:scaleX(0.9705);transform-origin:100% 0;">0.00</div>
<div class="t" style="top:232px;font-size:6.15px;color:#363636;left:215.20px;width:300px;text-align:right;transform:scaleX(0.9705);transform-origin:100% 0;">0.00</div>
<div class="t" style="top:232px;font-size:6.15px;color:#646464;left:399.50px;width:300px;text-align:right;transform:scaleX(1.0440);transform-origin:100% 0;">1181</div>
<div class="t" style="top:232px;font-size:6.15px;color:#646464;left:426.40px;width:300px;text-align:right;transform:scaleX(1.0098);transform-origin:100% 0;">270</div>
<div class="t" style="top:232px;font-size:6.15px;color:#646464;left:452.70px;width:300px;text-align:right;transform:scaleX(1.0098);transform-origin:100% 0;">132</div>
<div class="t" style="top:232px;font-size:6.15px;color:#646464;left:478.60px;width:300px;text-align:right;transform:scaleX(1.0094);transform-origin:100% 0;">1582</div>
<div style="left:128.60px;top:243px;width:59.2px;height:9.8px;overflow:hidden;"><div class="t" style="top:1px;font-size:6.15px;color:#363636;left:0.00px;">Stockage / Local tech</div></div>
<div class="t" style="top:244px;font-size:6.15px;color:#363636;left:-86.90px;width:300px;text-align:right;">gv</div>
<div class="t" style="top:244px;font-size:6.15px;color:#363636;left:229.00px;transform:scaleX(1.0081);transform-origin:0 0;">pas d'isolation</div>
<div class="t" style="top:244px;font-size:6.15px;color:#363636;left:30.40px;width:300px;text-align:right;transform:scaleX(0.9705);transform-origin:100% 0;">0.00</div>
<div class="t" style="top:244px;font-size:6.15px;color:#363636;left:215.20px;width:300px;text-align:right;transform:scaleX(0.9705);transform-origin:100% 0;">0.00</div>
<div class="t" style="top:244px;font-size:6.15px;color:#efb070;left:399.50px;width:300px;text-align:right;">-12</div>
<div class="t" style="top:244px;font-size:6.15px;color:#646464;left:426.40px;width:300px;text-align:right;transform:scaleX(1.0098);transform-origin:100% 0;">168</div>
<div class="t" style="top:244px;font-size:6.15px;color:#646464;left:452.70px;width:300px;text-align:right;transform:scaleX(1.0098);transform-origin:100% 0;">132</div>
<div class="t" style="top:244px;font-size:6.15px;color:#646464;left:478.60px;width:300px;text-align:right;transform:scaleX(1.0098);transform-origin:100% 0;">286</div>
<div style="left:128.60px;top:254px;width:59.2px;height:9.8px;overflow:hidden;"><div class="t" style="top:1px;font-size:6.15px;color:#363636;left:0.00px;">Cuisine</div></div>
<div class="t" style="top:255px;font-size:6.15px;color:#363636;left:-86.90px;width:300px;text-align:right;">gv</div>
<div class="t" style="top:255px;font-size:6.15px;color:#363636;left:229.00px;transform:scaleX(1.0081);transform-origin:0 0;">pas d'isolation</div>
<div class="t" style="top:255px;font-size:6.15px;color:#363636;left:30.40px;width:300px;text-align:right;transform:scaleX(0.9705);transform-origin:100% 0;">1.80</div>
<div class="t" style="top:255px;font-size:6.15px;color:#363636;left:335.50px;transform:scaleX(1.0081);transform-origin:0 0;">couloir</div>
<div class="t" style="top:255px;font-size:6.15px;color:#363636;left:414.90px;transform:scaleX(1.0081);transform-origin:0 0;">pas d'isolation</div>
<div class="t" style="top:255px;font-size:6.15px;color:#363636;left:215.20px;width:300px;text-align:right;transform:scaleX(0.9705);transform-origin:100% 0;">0.00</div>
<div class="t" style="top:255px;font-size:6.15px;color:#646464;left:399.50px;width:300px;text-align:right;transform:scaleX(1.0098);transform-origin:100% 0;">845</div>
<div class="t" style="top:255px;font-size:6.15px;color:#646464;left:426.40px;width:300px;text-align:right;transform:scaleX(1.0098);transform-origin:100% 0;">327</div>
<div class="t" style="top:255px;font-size:6.15px;color:#646464;left:452.70px;width:300px;text-align:right;transform:scaleX(1.0098);transform-origin:100% 0;">161</div>
<div class="t" style="top:255px;font-size:6.15px;color:#646464;left:478.60px;width:300px;text-align:right;transform:scaleX(1.0094);transform-origin:100% 0;">1332</div>
<div style="left:128.60px;top:266px;width:59.2px;height:9.8px;overflow:hidden;"><div class="t" style="top:1px;font-size:6.15px;color:#363636;left:0.00px;">WC</div></div>
<div class="t" style="top:267px;font-size:6.15px;color:#363636;left:-86.90px;width:300px;text-align:right;">gv</div>
<div class="t" style="top:267px;font-size:6.15px;color:#363636;left:30.40px;width:300px;text-align:right;transform:scaleX(0.9705);transform-origin:100% 0;">0.00</div>
<div class="t" style="top:267px;font-size:6.15px;color:#363636;left:215.20px;width:300px;text-align:right;transform:scaleX(0.9705);transform-origin:100% 0;">0.00</div>
<div class="t" style="top:267px;font-size:6.15px;color:#646464;left:399.50px;width:300px;text-align:right;">-</div>
<div class="t" style="top:267px;font-size:6.15px;color:#646464;left:426.40px;width:300px;text-align:right;">-</div>
<div class="t" style="top:267px;font-size:6.15px;color:#646464;left:452.70px;width:300px;text-align:right;">-</div>
<div class="t" style="top:267px;font-size:6.15px;color:#646464;left:478.60px;width:300px;text-align:right;">-</div>
<div style="left:128.60px;top:277px;width:59.2px;height:9.8px;overflow:hidden;"><div class="t" style="top:1px;font-size:6.15px;color:#363636;left:0.00px;">WC</div></div>
<div class="t" style="top:278px;font-size:6.15px;color:#363636;left:-86.90px;width:300px;text-align:right;">1ste</div>
<div class="t" style="top:278px;font-size:6.15px;color:#363636;left:30.40px;width:300px;text-align:right;transform:scaleX(0.9705);transform-origin:100% 0;">0.00</div>
<div class="t" style="top:278px;font-size:6.15px;color:#363636;left:215.20px;width:300px;text-align:right;transform:scaleX(0.9705);transform-origin:100% 0;">0.00</div>
<div class="t" style="top:278px;font-size:6.15px;color:#646464;left:399.50px;width:300px;text-align:right;">-</div>
<div class="t" style="top:278px;font-size:6.15px;color:#646464;left:426.40px;width:300px;text-align:right;">-</div>
<div class="t" style="top:278px;font-size:6.15px;color:#646464;left:452.70px;width:300px;text-align:right;">-</div>
<div class="t" style="top:278px;font-size:6.15px;color:#646464;left:478.60px;width:300px;text-align:right;">-</div>
<div style="left:128.60px;top:289px;width:59.2px;height:9.8px;overflow:hidden;"><div class="t" style="top:1px;font-size:6.15px;color:#363636;left:0.00px;">Grenier</div></div>
<div class="t" style="top:290px;font-size:6.15px;color:#363636;left:-86.90px;width:300px;text-align:right;">2 de</div>
<div class="t" style="top:290px;font-size:6.15px;color:#363636;left:30.40px;width:300px;text-align:right;transform:scaleX(0.9705);transform-origin:100% 0;">0.00</div>
<div class="t" style="top:290px;font-size:6.15px;color:#363636;left:215.20px;width:300px;text-align:right;transform:scaleX(0.9705);transform-origin:100% 0;">0.00</div>
<div class="t" style="top:290px;font-size:6.15px;color:#646464;left:399.50px;width:300px;text-align:right;">-</div>
<div class="t" style="top:290px;font-size:6.15px;color:#646464;left:426.40px;width:300px;text-align:right;">-</div>
<div class="t" style="top:290px;font-size:6.15px;color:#646464;left:452.70px;width:300px;text-align:right;">-</div>
<div class="t" style="top:290px;font-size:6.15px;color:#646464;left:478.60px;width:300px;text-align:right;">-</div>
</div></body></html>
